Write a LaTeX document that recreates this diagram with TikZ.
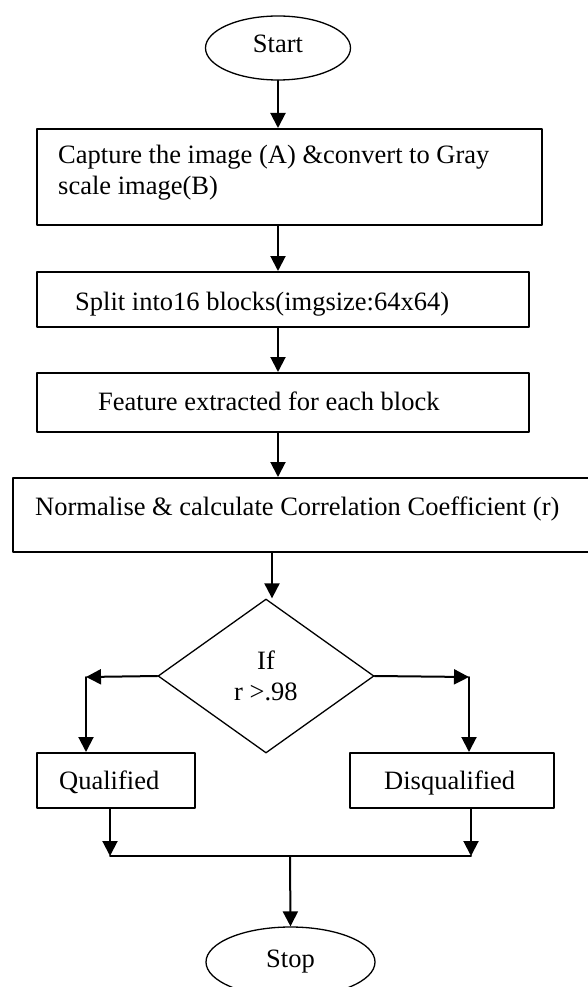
\documentclass[tikz,border=0pt]{standalone}
\usepackage{fontspec}
\setmainfont{Liberation Serif}
\usetikzlibrary{shapes.geometric}
\usetikzlibrary{arrows.meta}

\tikzset{
  box/.style={draw,line width=2pt,rectangle,inner sep=0pt},
  oval/.style={draw,line width=1.3pt,ellipse,inner sep=0pt,font=\fontsize{26.5pt}{30.5pt}\selectfont},
  test/.style={draw,line width=1.3pt,diamond,inner sep=0pt,align=center,font=\fontsize{26.5pt}{30.5pt}\selectfont},
  lbl/.style={inner sep=0pt,font=\fontsize{26.5pt}{30.5pt}\selectfont},
  flow/.style={line width=2pt,-{Triangle[length=15pt,width=15pt]}},
}

\begin{document}
\begin{tikzpicture}[x=1pt,y=-1pt,line cap=round,line join=round]
\useasboundingbox (0,0) rectangle (588,987);
\clip (0,0) rectangle (588,987);
\fill[white] (0,0) rectangle (588,987);
\node[oval,minimum width=145pt,minimum height=64pt,text depth=8pt] (start) at (278,48) {Start};
\node[box,minimum width=505pt,minimum height=96pt] (capture) at (289.5,177) {};
\node[lbl,anchor=north west,align=left] (capturetext) at (58,145) {Capture the image (A) \&convert to Gray\\scale image(B)};
\node[box,minimum width=492pt,minimum height=55pt] (split) at (283,299.5) {};
\node[lbl,anchor=base west] (splittext) at (75,310.5) {Split into16 blocks(imgsize:64x64)};
\node[box,minimum width=492pt,minimum height=59pt] (feature) at (283,402.5) {};
\node[lbl,anchor=base west] (featuretext) at (98,410.5) {Feature extracted for each block};
\node[box,minimum width=600pt,minimum height=74pt] (normalise) at (313,515) {};
\node[lbl,anchor=base west] (normalisetext) at (35,515) {Normalise \& calculate Correlation Coefficient (r)};
\node[test,minimum width=216pt,minimum height=154pt] (decision) at (266,676) {If\\r >.98};
\node[box,minimum width=158pt,minimum height=55pt] (qualified) at (116,780.5) {};
\node[lbl,anchor=base west] (qualifiedtext) at (59,789) {Qualified};
\node[box,minimum width=204pt,minimum height=55pt] (disqualified) at (452,780.5) {};
\node[lbl,anchor=base west] (disqualifiedtext) at (384,789) {Disqualified};
\node[oval,minimum width=169pt,minimum height=70pt] (stop) at (290.5,962) {Stop};
% branch and join points
\coordinate (lsplit) at (86,677);
\coordinate (rsplit) at (469,677);
\coordinate (qjoin) at (110,856);
\coordinate (djoin) at (471,856);
\coordinate (mjoin) at (290,856);
% main column
\draw[flow] (start.south) -- (capture.north -| start.south);
\draw[flow] (capture.south -| start.south) -- (split.north -| start.south);
\draw[flow] (split.south -| start.south) -- (feature.north -| start.south);
\draw[flow] (feature.south -| start.south) -- (normalise.north -| start.south);
\draw[flow] ([xshift=6pt]decision.north |- normalise.south) -- ([xshift=6pt]decision.north);
% branches
\draw[flow] (decision.west) -- (lsplit);
\draw[flow] (lsplit) -- (lsplit |- qualified.north);
\draw[flow] (decision.east) -- (rsplit);
\draw[flow] (rsplit) -- (rsplit |- disqualified.north);
\draw[flow] (qjoin |- qualified.south) -- (qjoin);
\draw[flow] (djoin |- disqualified.south) -- (djoin);
\draw[line width=2pt] (qjoin) -- (djoin);
\draw[flow] (mjoin) -- (stop.north);
\end{tikzpicture}
\end{document}
